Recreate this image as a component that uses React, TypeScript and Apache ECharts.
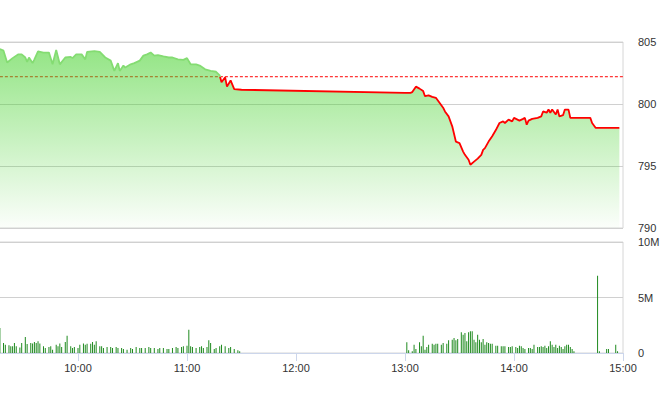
import React, { useEffect, useRef } from "react";
import * as echarts from "echarts";

const axisStart = "09:00";
const axisEnd = "15:00";
const dataStart = "09:17";
const refPrice = 802.2;

const priceTimes = [
  "09:17", "09:19", "09:21", "09:24", "09:27", "09:29", "09:31", "09:32", "09:33", "09:35",
  "09:36", "09:38", "09:41", "09:44", "09:46", "09:48", "09:50", "09:53", "09:56", "09:57",
  "09:59", "10:02", "10:04", "10:05", "10:09", "10:12", "10:15", "10:18", "10:20", "10:22",
  "10:23", "10:25", "10:26", "10:29", "10:31", "10:34", "10:36", "10:38", "10:40", "10:42",
  "10:44", "10:47", "10:50", "10:52", "10:55", "10:58", "11:00", "11:02", "11:05", "11:07",
  "11:10", "11:13", "11:16", "11:18", "11:19", "11:21", "11:22", "11:24", "11:26", "11:30",
  "13:00", "13:03", "13:04", "13:06", "13:08", "13:10", "13:11", "13:13", "13:15", "13:17",
  "13:19", "13:21", "13:22", "13:24", "13:26", "13:28", "13:30", "13:32", "13:33", "13:35",
  "13:36", "13:38", "13:40", "13:42", "13:43", "13:44", "13:46", "13:48", "13:50", "13:52",
  "13:54", "13:55", "13:57", "13:59", "14:00", "14:03", "14:05", "14:06", "14:07", "14:08",
  "14:10", "14:13", "14:15", "14:16", "14:18", "14:19", "14:20", "14:21", "14:23", "14:24",
  "14:25", "14:27", "14:28", "14:30", "14:31", "14:42", "14:43", "14:45", "14:58",
];
const priceValues = [
  804.43, 804.3, 803.35, 803.7, 804.0, 804.0, 803.75, 803.4, 803.75, 803.3,
  803.6, 804.25, 804.15, 804.15, 803.2, 804.35, 803.2, 803.75, 803.8, 803.7,
  804.0, 804.0, 803.6, 804.2, 804.27, 804.2, 803.75, 803.5, 802.67, 803.3,
  802.67, 803.1, 802.94, 803.2, 803.3, 803.5, 803.9, 804.0, 804.15, 803.9,
  803.95, 803.84, 803.75, 803.75, 803.6, 803.56, 803.7, 803.2, 803.2, 803.1,
  802.8, 802.67, 802.6, 802.3, 801.75, 802.15, 801.4, 801.9, 801.2, 801.15,
  800.9, 800.9, 800.96, 801.4, 801.24, 801.04, 800.63, 800.7, 800.58, 800.5,
  800.1, 799.7, 799.4, 799.0, 798.2, 796.97, 796.85, 796.16, 795.9, 795.5,
  795.1, 795.35, 795.6, 795.9, 796.3, 796.44, 796.97, 797.4, 797.9, 798.47,
  798.6, 798.47, 798.74, 798.6, 798.88, 798.66, 798.8, 798.88, 798.33, 798.66,
  798.8, 798.88, 799.0, 799.4, 799.3, 799.55, 799.3, 799.55, 799.15, 799.55,
  799.0, 799.1, 799.55, 799.55, 798.88, 798.88, 798.47, 798.07, 798.07,
];

const volTimes = [
  "09:17", "09:19", "09:20", "09:22", "09:23", "09:24", "09:25", "09:26", "09:28", "09:29",
  "09:31", "09:32", "09:34", "09:35", "09:36", "09:37", "09:38", "09:39", "09:41", "09:42",
  "09:44", "09:45", "09:46", "09:48", "09:49", "09:50", "09:51", "09:53", "09:54", "09:56",
  "09:57", "09:58", "10:00", "10:01", "10:03", "10:04", "10:05", "10:07", "10:08", "10:09",
  "10:10", "10:12", "10:13", "10:14", "10:16", "10:18", "10:19", "10:21", "10:22", "10:24",
  "10:25", "10:27", "10:29", "10:30", "10:32", "10:34", "10:35", "10:37", "10:39", "10:40",
  "10:42", "10:44", "10:45", "10:47", "10:49", "10:50", "10:52", "10:54", "10:55", "10:57",
  "10:58", "11:00", "11:01", "11:02", "11:03", "11:05", "11:07", "11:08", "11:09", "11:11",
  "11:12", "11:13", "11:15", "11:16", "11:18", "11:19", "11:21", "11:23", "11:24", "11:26",
  "11:28", "11:29",
  "13:01", "13:02", "13:04", "13:05", "13:06", "13:08", "13:09", "13:10", "13:11", "13:12",
  "13:13", "13:15", "13:16", "13:17", "13:18", "13:20", "13:21", "13:23", "13:24", "13:26",
  "13:27", "13:28", "13:29", "13:31", "13:32", "13:33", "13:34", "13:35", "13:36", "13:37",
  "13:38", "13:39", "13:40", "13:41", "13:42", "13:43", "13:44", "13:45", "13:46", "13:47",
  "13:48", "13:50", "13:51", "13:53", "13:54", "13:55", "13:57", "13:58", "13:59", "14:01",
  "14:02", "14:03", "14:04", "14:05", "14:06", "14:08", "14:09", "14:10", "14:11", "14:13",
  "14:14", "14:15", "14:16", "14:17", "14:18", "14:19", "14:20", "14:21", "14:22", "14:23",
  "14:24", "14:25", "14:26", "14:27", "14:28", "14:29", "14:30", "14:31", "14:32", "14:33",
  "14:46", "14:47", "14:51", "14:52", "14:56", "14:57",
];
// volume in millions
const volValues = [
  2.25, 0.9, 0.75, 0.7, 0.6, 0.6, 0.9, 0.6, 0.5, 0.9,
  1.45, 0.8, 0.9, 0.85, 1.0, 0.9, 1.05, 0.85, 0.6, 0.45,
  0.55, 0.6, 0.3, 0.75, 0.6, 0.85, 0.54, 1.0, 1.55, 0.6,
  0.45, 0.54, 0.45, 0.75, 0.85, 0.75, 0.84, 0.84, 1.0, 0.75,
  1.05, 0.6, 0.6, 0.45, 0.54, 0.54, 0.45, 0.54, 0.45, 0.45,
  0.36, 0.3, 0.45, 0.36, 0.54, 0.45, 0.45, 0.45, 0.54, 0.45,
  0.45, 0.36, 0.45, 0.45, 0.36, 0.36, 0.45, 0.54, 0.45, 0.54,
  0.6, 0.66, 2.1, 0.6, 0.54, 0.45, 0.54, 0.6, 0.45, 0.54,
  1.15, 0.9, 0.36, 0.45, 0.6, 0.75, 0.6, 0.45, 0.54, 0.36,
  0.24, 0.15,
  0.96, 0.24, 0.15, 0.75, 0.36, 0.96, 0.6, 1.56, 0.3, 0.54,
  0.75, 0.84, 0.75, 0.84, 0.84, 0.75, 0.9, 0.84, 1.14, 1.2,
  1.35, 1.14, 1.26, 1.86, 1.65, 1.8, 1.05, 1.86, 1.95, 1.95,
  1.2, 0.96, 1.65, 1.2, 0.96, 1.26, 0.75, 0.96, 0.9, 0.84,
  0.84, 0.66, 0.66, 0.6, 0.6, 0.6, 0.54, 0.54, 0.6, 0.54,
  0.45, 0.66, 0.6, 0.45, 0.36, 0.45, 0.45, 0.36, 0.75, 0.54,
  0.54, 0.6, 0.54, 0.66, 0.45, 0.6, 1.05, 0.75, 0.54, 0.75,
  0.45, 0.66, 0.54, 0.36, 0.6, 0.75, 0.75, 0.54, 0.36, 0.15,
  6.95, 0.15, 0.36, 0.36, 0.75, 0.15,
];

// minutes since midnight
const toMin = (s: string) => {
  const [h, m] = s.split(":").map(Number);
  return h * 60 + m;
};
const fmt = (v: number) =>
  String(Math.floor(v / 60)).padStart(2, "0") + ":" + String(Math.round(v % 60)).padStart(2, "0");

const FONT = "'Liberation Sans', Arial, sans-serif";

export default function App() {
  const ref = useRef<HTMLDivElement>(null);
  useEffect(() => {
    if (!ref.current) return;
    const chart = echarts.init(ref.current, null, { renderer: "svg" });
    const xMin = toMin(axisStart);
    const xMax = toMin(axisEnd);
    const x0 = toMin(dataStart);
    chart.setOption({
      animation: false,
      backgroundColor: "#ffffff",
      grid: [
        { left: -31, right: 37, top: 42, height: 186, show: true, borderColor: "#d6d6d6", borderWidth: 1, outerBoundsMode: "none", containLabel: false },
        { left: -31, right: 37, top: 242, height: 111, show: true, borderColor: "#d6d6d6", borderWidth: 1, outerBoundsMode: "none", containLabel: false },
      ],
      xAxis: [
        {
          type: "value", gridIndex: 0, min: xMin, max: xMax, interval: 60,
          axisLine: { show: false }, axisTick: { show: false }, axisLabel: { show: false }, splitLine: { show: false },
        },
        {
          type: "value", gridIndex: 1, min: xMin, max: xMax, interval: 60,
          axisLine: { show: true, onZero: false, lineStyle: { color: "#ccd6eb", width: 1 } },
          axisTick: { show: true, length: 8, lineStyle: { color: "#ccd6eb" } },
          axisLabel: { formatter: fmt, showMinLabel: false, color: "#333", fontSize: 11, margin: 9, fontFamily: FONT },
          splitLine: { show: false },
        },
      ],
      yAxis: [
        {
          type: "value", gridIndex: 0, position: "right", min: 790, max: 805, interval: 5,
          axisLine: { show: false }, axisTick: { show: false },
          axisLabel: { margin: 15, color: "#333", fontSize: 11, fontFamily: FONT },
          splitLine: { lineStyle: { color: "#d0d0d0" } },
        },
        {
          type: "value", gridIndex: 1, position: "right", min: 0, max: 10, interval: 5,
          axisLine: { show: false }, axisTick: { show: false },
          axisLabel: { margin: 15, color: "#333", fontSize: 11, fontFamily: FONT, formatter: (v: number) => (v === 0 ? "0" : v + "M") },
          splitLine: { lineStyle: { color: "#d0d0d0" } },
        },
      ],
      visualMap: {
        type: "piecewise", show: false, seriesIndex: 1, dimension: 1,
        pieces: [
          { gt: refPrice, lte: 900, color: "#84dc72" },
          { gte: 700, lte: refPrice, color: "#ff0000" },
        ],
      },
      series: [
        {
          type: "line", xAxisIndex: 0, yAxisIndex: 0, z: 1, silent: true, symbol: "none",
          data: [[x0, refPrice], [xMax, refPrice]],
          lineStyle: { color: "#ff0000", width: 1, type: [3, 2] },
        },
        {
          type: "line", xAxisIndex: 0, yAxisIndex: 0, z: 2, symbol: "none",
          data: priceTimes.map((t, i) => [toMin(t), priceValues[i]]),
          lineStyle: { width: 1.8 },
          areaStyle: {
            opacity: 1,
            color: new echarts.graphic.LinearGradient(0, 0, 0, 1, [
              { offset: 0, color: "rgba(70,210,45,0.58)" },
              { offset: 1, color: "rgba(70,210,45,0.02)" },
            ]),
          },
        },
        {
          type: "bar", xAxisIndex: 1, yAxisIndex: 1, barWidth: 1,
          data: volTimes.map((t, i) => [toMin(t), volValues[i]]),
          itemStyle: { color: "#1f8a1f" },
        },
      ],
    });
    return () => chart.dispose();
  }, []);
  return (
    <div
      ref={ref}
      style={{ position: "fixed", left: 0, top: 0, width: 660, height: 412 }}
    />
  );
}
